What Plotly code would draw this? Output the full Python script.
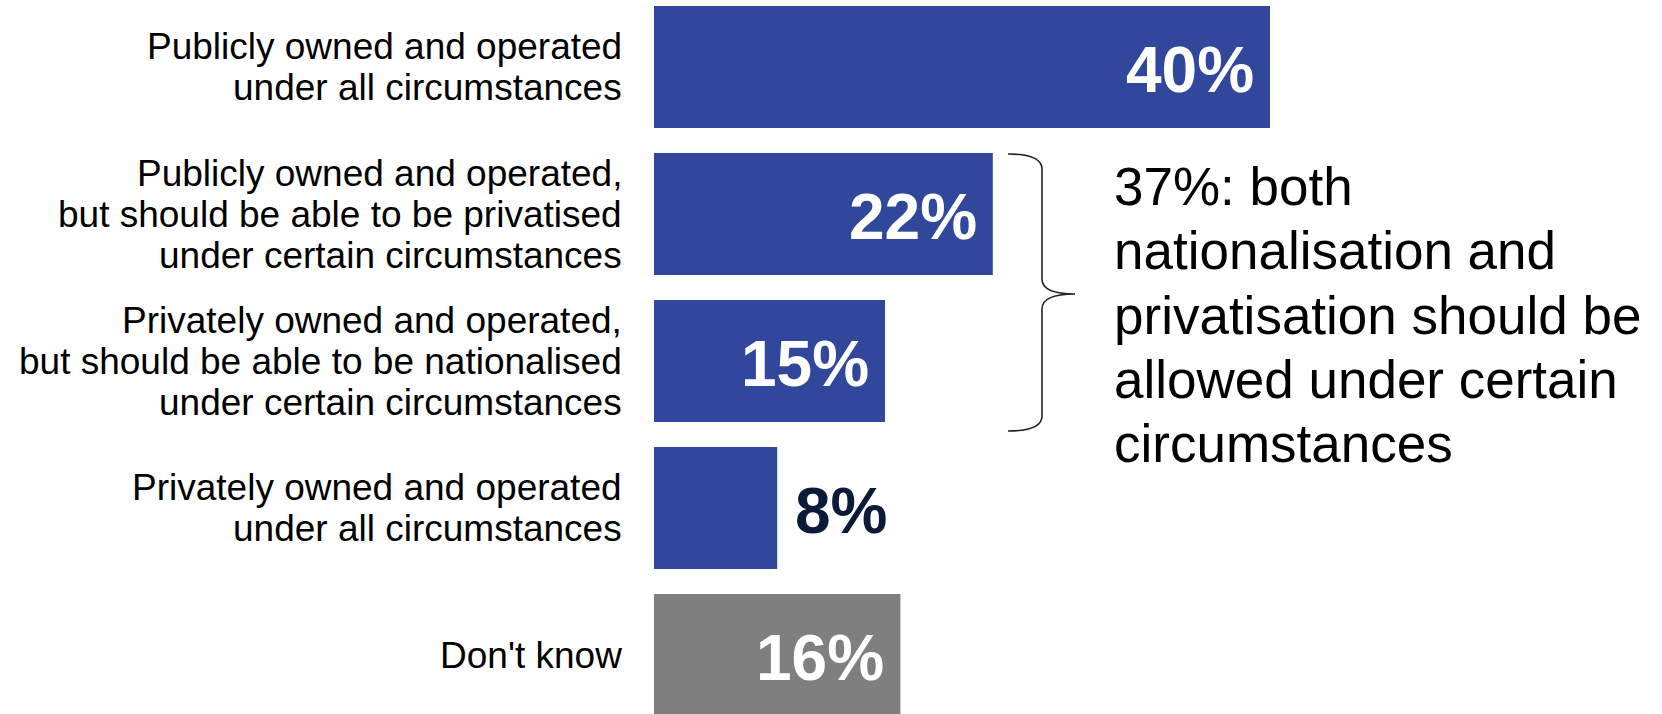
import plotly.graph_objects as go

# ---- data ----
categories = [
    "Publicly owned and operated\nunder all circumstances",
    "Publicly owned and operated,\nbut should be able to be privatised\nunder certain circumstances",
    "Privately owned and operated,\nbut should be able to be nationalised\nunder certain circumstances",
    "Privately owned and operated\nunder all circumstances",
    "Don't know",
]
values = [40, 22, 15, 8, 16]
value_labels = ["40%", "22%", "15%", "8%", "16%"]
bar_colors = ["#30479B", "#30479B", "#30479B", "#30479B", "#7F7F7F"]
callout_lines = [
    "37%: both",
    "nationalisation and",
    "privatisation should be",
    "allowed under certain",
    "circumstances",
]

# ---- layout constants (pixels) ----
W, H = 1662, 714
PLOT_L = 654
PX_PER_UNIT = 15.4
ROW = 147.0
ROW0 = 67.0
FONT = "Liberation Sans, Arial, sans-serif"

ypos = list(range(len(categories)))
x_max = (W - PLOT_L) / PX_PER_UNIT
y_top = -ROW0 / ROW
y_bot = (H - ROW0) / ROW

fig = go.Figure()
fig.add_trace(go.Bar(
    x=values, y=ypos, orientation="h",
    marker=dict(color=bar_colors, line=dict(width=0)),
    width=0.83, hoverinfo="skip",
))

annotations = []
# category labels (one annotation per line for PowerPoint-like line spacing)
LBL_FS, LBL_LS = 37, 41
for i, cat in enumerate(categories):
    lines = cat.split("\n")
    n = len(lines)
    for k, ln in enumerate(lines):
        annotations.append(dict(
            x=0, y=ypos[i], xref="x", yref="y", text=ln, showarrow=False,
            xanchor="right", yanchor="middle", xshift=-30,
            yshift=-(k - (n - 1) / 2) * LBL_LS,
            font=dict(family=FONT, size=LBL_FS, color="#000000"),
        ))

# value labels
for i, (v, lab) in enumerate(zip(values, value_labels)):
    inside = v >= 10
    annotations.append(dict(
        x=v, y=ypos[i], xref="x", yref="y", text="<b>%s</b>" % lab,
        showarrow=False, xanchor="right" if inside else "left",
        xshift=-14 if inside else 16, yshift=-3, yanchor="middle",
        font=dict(family=FONT, size=64, color="#FFFFFF" if inside else "#0C1A3A"),
    ))

# callout text
def py(p):
    return 1 - p / H

def px(p):
    return (p - PLOT_L) / (W - PLOT_L)

CALL_X = 1112
CALL_Y0 = 187
CALL_LS = 64
for k, ln in enumerate(callout_lines):
    annotations.append(dict(
        x=px(CALL_X), y=py(CALL_Y0 + k * CALL_LS), xref="paper", yref="paper",
        text=ln, showarrow=False, xanchor="left", yanchor="middle",
        font=dict(family=FONT, size=53, color="#000000"),
    ))

# brace
bx0, bx1, btip = 1008, 1042, 1075
by0, bmid, by1 = 154, 294, 431
r = 15
path = (
    f"M {px(bx0)},{py(by0)} Q {px(bx1)},{py(by0)} {px(bx1)},{py(by0 + r)} "
    f"L {px(bx1)},{py(bmid - r)} Q {px(bx1)},{py(bmid)} {px(btip)},{py(bmid)} "
    f"Q {px(bx1)},{py(bmid)} {px(bx1)},{py(bmid + r)} "
    f"L {px(bx1)},{py(by1 - r)} Q {px(bx1)},{py(by1)} {px(bx0)},{py(by1)}"
)
shapes = [dict(type="path", path=path, xref="paper", yref="paper",
               line=dict(color="#222222", width=1.6))]

fig.update_layout(
    width=W, height=H,
    margin=dict(l=PLOT_L, r=0, t=0, b=0),
    paper_bgcolor="white", plot_bgcolor="white",
    showlegend=False, hovermode=False,
    xaxis=dict(range=[0, x_max], visible=False, fixedrange=True),
    yaxis=dict(range=[y_bot, y_top], visible=False, fixedrange=True),
    annotations=annotations, shapes=shapes,
)

fig.write_html(
    "out.html",
    config={"displayModeBar": False},
    post_script="document.body.style.margin='0';document.body.style.overflow='hidden';",
)
